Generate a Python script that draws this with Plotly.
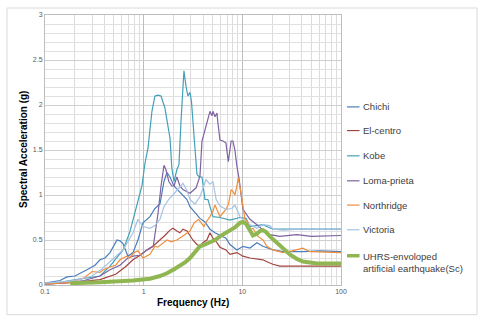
import plotly.graph_objects as go

# Response spectra of the input ground motions (frequency in Hz, spectral acceleration in g)
chichi_f = [0.1, 0.142, 0.167, 0.201, 0.266, 0.321, 0.361, 0.405, 0.456, 0.5, 0.536, 0.575, 0.617,
            0.693, 0.779, 0.875, 0.984, 1.158, 1.301, 1.463, 1.606, 1.722, 1.847, 2.028, 2.226,
            2.501, 2.746, 2.946, 3.31, 3.72, 4.18, 4.70, 5.28, 5.93, 6.82, 7.49, 8.03, 8.81,
            10.14, 11.94, 14.06, 16.17, 20.4, 25.8, 41.1, 61.2, 100]
chichi_g = [0.02, 0.05, 0.09, 0.10, 0.17, 0.22, 0.28, 0.30, 0.36, 0.45, 0.50, 0.49, 0.46,
            0.32, 0.36, 0.50, 0.69, 0.76, 0.85, 0.90, 1.15, 1.25, 1.20, 1.10, 1.05,
            1.00, 0.95, 0.87, 0.80, 0.74, 0.70, 0.62, 0.58, 0.55, 0.52, 0.45, 0.42, 0.39,
            0.43, 0.41, 0.47, 0.43, 0.39, 0.37, 0.37, 0.38, 0.37]

elcentro_f = [0.1, 0.201, 0.361, 0.52, 0.65, 0.779, 0.92, 1.08, 1.24, 1.463, 1.64, 1.847, 1.98,
              2.17, 2.33, 2.50, 2.746, 2.946, 3.15, 3.47, 3.72, 3.97, 4.37, 4.70, 5.04, 5.53,
              5.93, 6.82, 7.49, 8.81, 10.14, 11.94, 14.06, 16.17, 18.5, 20.4, 24.0, 38.4, 100]
elcentro_g = [0.01, 0.03, 0.06, 0.12, 0.20, 0.28, 0.33, 0.39, 0.43, 0.50, 0.55, 0.61, 0.63,
              0.60, 0.58, 0.62, 0.60, 0.55, 0.50, 0.45, 0.43, 0.47, 0.50, 0.58, 0.52, 0.47,
              0.42, 0.39, 0.34, 0.36, 0.32, 0.30, 0.29, 0.28, 0.25, 0.23, 0.21, 0.21, 0.21]

kobe_f = [0.1, 0.142, 0.205, 0.27, 0.361, 0.456, 0.536, 0.617, 0.72, 0.85, 0.96, 1.03, 1.106,
          1.213, 1.301, 1.40, 1.50, 1.64, 1.85, 1.93, 2.03, 2.17, 2.28, 2.39, 2.56, 2.70,
          2.81, 2.946, 3.05, 3.31, 3.47, 3.65, 3.90, 4.18, 4.48, 5.04, 5.93, 7.49, 9.46,
          10.9, 11.94, 16.17, 20.4, 30.3, 48.4, 100]
kobe_g = [0.02, 0.03, 0.06, 0.08, 0.10, 0.21, 0.30, 0.39, 0.58, 0.87, 1.10, 1.35, 1.52,
          1.93, 2.10, 2.11, 2.10, 1.97, 1.63, 1.30, 1.15, 1.28, 1.34, 1.82, 2.38, 2.19,
          2.10, 2.14, 2.04, 1.52, 1.23, 1.20, 1.20, 0.95, 0.95, 0.76, 0.75, 0.72, 0.75,
          0.74, 0.65, 0.67, 0.62, 0.62, 0.62, 0.62]

loma_f = [0.1, 0.18, 0.25, 0.361, 0.456, 0.575, 0.693, 0.779, 0.92, 1.08, 1.25, 1.30, 1.40,
          1.50, 1.606, 1.68, 1.80, 1.93, 2.03, 2.17, 2.33, 2.50, 2.946, 3.40, 3.72, 3.90,
          4.48, 4.70, 4.92, 5.04, 5.28, 5.53, 5.66, 5.93, 6.36, 6.82, 7.21, 7.70, 8.03,
          8.41, 8.81, 9.30, 10.14, 11.94, 14.06, 16.17, 19.04, 24.0, 35.7, 50.0, 100]
loma_g = [0.01, 0.03, 0.05, 0.10, 0.17, 0.22, 0.30, 0.32, 0.33, 0.39, 0.43, 0.55, 0.80,
          1.10, 1.33, 1.28, 1.15, 1.10, 1.10, 1.20, 1.10, 1.06, 1.02, 1.08, 1.21, 1.60,
          1.84, 1.93, 1.88, 1.93, 1.87, 1.91, 1.80, 1.61, 1.60, 1.58, 1.37, 1.60, 1.60,
          1.50, 1.32, 1.17, 0.84, 0.73, 0.67, 0.61, 0.56, 0.54, 0.56, 0.54, 0.55]

northridge_f = [0.1, 0.18, 0.25, 0.30, 0.361, 0.39, 0.456, 0.52, 0.575, 0.67, 0.72, 0.80,
                0.875, 0.984, 1.158, 1.301, 1.39, 1.52, 1.722, 1.90, 2.17, 2.39, 2.746,
                2.946, 3.25, 3.60, 4.08, 4.30, 4.70, 5.04, 5.28, 5.66, 5.93, 6.36, 6.82,
                7.25, 7.70, 8.03, 8.41, 8.81, 9.10, 9.70, 10.62, 11.4, 11.94, 12.8, 14.4,
                16.17, 17.75, 20.4, 25.8, 32.0, 41.1, 48.4, 100]
northridge_g = [0.01, 0.03, 0.08, 0.15, 0.14, 0.17, 0.20, 0.22, 0.28, 0.32, 0.30, 0.36,
                0.38, 0.30, 0.34, 0.43, 0.42, 0.45, 0.50, 0.48, 0.50, 0.53, 0.58,
                0.60, 0.69, 0.73, 0.65, 0.70, 0.76, 0.82, 0.89, 0.80, 0.76, 0.80, 0.84,
                0.90, 1.06, 1.04, 1.00, 1.10, 1.19, 1.02, 0.73, 0.70, 0.61, 0.63, 0.54,
                0.50, 0.43, 0.39, 0.36, 0.38, 0.41, 0.37, 0.36]

victoria_f = [0.1, 0.167, 0.22, 0.30, 0.38, 0.48, 0.617, 0.693, 0.779, 0.875, 0.984, 1.158,
              1.301, 1.463, 1.606, 1.79, 1.95, 2.17, 2.50, 2.746, 2.946, 3.31, 3.72, 4.08,
              4.28, 4.70, 5.04, 5.43, 5.93, 6.82, 7.85, 8.41, 9.46, 11.0, 12.8, 14.06,
              16.17, 19.04, 20.4, 25.8, 38.4, 61.2, 100]
victoria_g = [0.02, 0.04, 0.06, 0.10, 0.18, 0.28, 0.39, 0.48, 0.58, 0.73, 0.65, 0.63,
              0.66, 0.73, 0.87, 0.95, 1.00, 1.05, 1.13, 1.05, 0.95, 0.90, 0.98, 1.10,
              1.17, 1.12, 1.15, 0.95, 0.88, 0.84, 0.85, 0.89, 0.76, 0.69, 0.65, 0.63,
              0.67, 0.66, 0.62, 0.61, 0.62, 0.62, 0.62]

uhrs_f = [0.18, 0.201, 0.361, 0.779, 1.158, 1.463, 1.722, 2.075, 2.33, 2.62, 2.946, 3.31,
          3.72, 4.18, 4.70, 5.28, 5.93, 6.67, 7.49, 8.41, 9.46, 10.14, 10.9, 11.94, 12.8,
          14.06, 15.08, 16.17, 17.3, 19.04, 21.4, 24.0, 27.0, 30.3, 35.7, 41.1, 48.4, 57.0, 100]
uhrs_g = [0.02, 0.02, 0.03, 0.05, 0.07, 0.10, 0.13, 0.18, 0.21, 0.25, 0.30, 0.37,
          0.43, 0.45, 0.47, 0.50, 0.54, 0.57, 0.60, 0.64, 0.69, 0.70, 0.68, 0.60, 0.55,
          0.57, 0.60, 0.61, 0.59, 0.54, 0.49, 0.43, 0.38, 0.34, 0.29, 0.26, 0.25, 0.24, 0.24]

names = ["Chichi", "El-centro", "Kobe", "Loma-prieta", "Northridge", "Victoria",
         "UHRS-envoloped<br>artificial earthquake(Sc)"]
colors = ["#4a7ebb", "#a3433f", "#42a0b9", "#7e62a1", "#ef8f3e", "#a6c2e3", "#8fb650"]
widths = [1.2, 1.2, 1.2, 1.2, 1.2, 1.2, 4]

freqs = [chichi_f, elcentro_f, kobe_f, loma_f, northridge_f, victoria_f, uhrs_f]
accels = [chichi_g, elcentro_g, kobe_g, loma_g, northridge_g, victoria_g, uhrs_g]

x_ticks = [0.1, 1, 10, 100]
x_tick_text = ["0.1", "1", "10", "100"]

fig = go.Figure()
for f, g, name, c, w in zip(freqs, accels, names, colors, widths):
    fig.add_trace(go.Scatter(x=f, y=g, mode="lines", name=name,
                             line=dict(color=c, width=w), showlegend=False))

# plot area in pixels: left 45, right 341, top 15, bottom 285
L, R, T, B = 45, 341, 15, 285.3
W, H = R - L, B - T


def px(x):
    return (x - L) / W


def py(y):
    return (B - y) / H


text_font = dict(family="Liberation Sans", size=9.5, color="#404040")

# legend drawn beside the plot area
legend_rows = [107, 130.7, 156, 181, 205.3, 230, 256]
shapes = []
annotations = []
for name, c, w, yrow in zip(names, colors, widths, legend_rows):
    shapes.append(dict(type="line", xref="paper", yref="paper",
                       x0=px(347), x1=px(359.5), y0=py(yrow), y1=py(yrow),
                       line=dict(color=c, width=w if w < 2 else 3.5)))
    if "<br>" in name:
        annotations.append(dict(xref="paper", yref="paper", x=px(361), y=py(yrow - 7),
                                xanchor="left", yanchor="top", align="left",
                                text=name, showarrow=False, font=text_font))
    else:
        annotations.append(dict(xref="paper", yref="paper", x=px(361), y=py(yrow),
                                xanchor="left", yanchor="middle", text=name,
                                showarrow=False, font=text_font))

# outer chart frame
shapes.append(dict(type="rect", xref="paper", yref="paper",
                   x0=px(7), x1=px(477), y0=py(315), y1=py(8),
                   line=dict(color="#d9d9d9", width=1), layer="below"))

title_font = dict(family="Liberation Sans", size=10, color="#000000")
annotations.append(dict(xref="paper", yref="paper", x=0.5, y=py(303),
                        xanchor="center", yanchor="middle", text="<b>Frequency (Hz)</b>",
                        showarrow=False, font=title_font))
annotations.append(dict(xref="paper", yref="paper", x=px(23), y=0.5, textangle=-90,
                        xanchor="center", yanchor="middle",
                        text="<b>Spectral Acceleration (g)</b>",
                        showarrow=False, font=title_font))

tick_font = dict(family="Liberation Sans", size=7, color="#595959")

fig.update_layout(
    width=488, height=326,
    margin=dict(l=L, r=488 - R, t=T, b=326 - B),
    paper_bgcolor="white", plot_bgcolor="white",
    shapes=shapes, annotations=annotations,
    showlegend=False,
)
fig.update_xaxes(
    type="log", range=[-1, 2],
    tickvals=x_ticks, ticktext=x_tick_text, tickfont=tick_font,
    showgrid=True, gridcolor="#bdbdbd", gridwidth=1,
    minor=dict(showgrid=True, gridcolor="#dcdcdc", dtick="D1", ticks=""),
    showline=True, linecolor="#bdbdbd", mirror=True,
    ticks="", zeroline=False,
)
fig.update_yaxes(
    range=[0, 3], dtick=0.5, tickfont=tick_font,
    showgrid=True, gridcolor="#cfcfcf", gridwidth=1,
    minor=dict(showgrid=True, gridcolor="#e0e0e0", dtick=0.1, ticks=""),
    showline=True, linecolor="#bdbdbd", mirror=True,
    ticks="", zeroline=False,
)

fig.write_html("out.html")
